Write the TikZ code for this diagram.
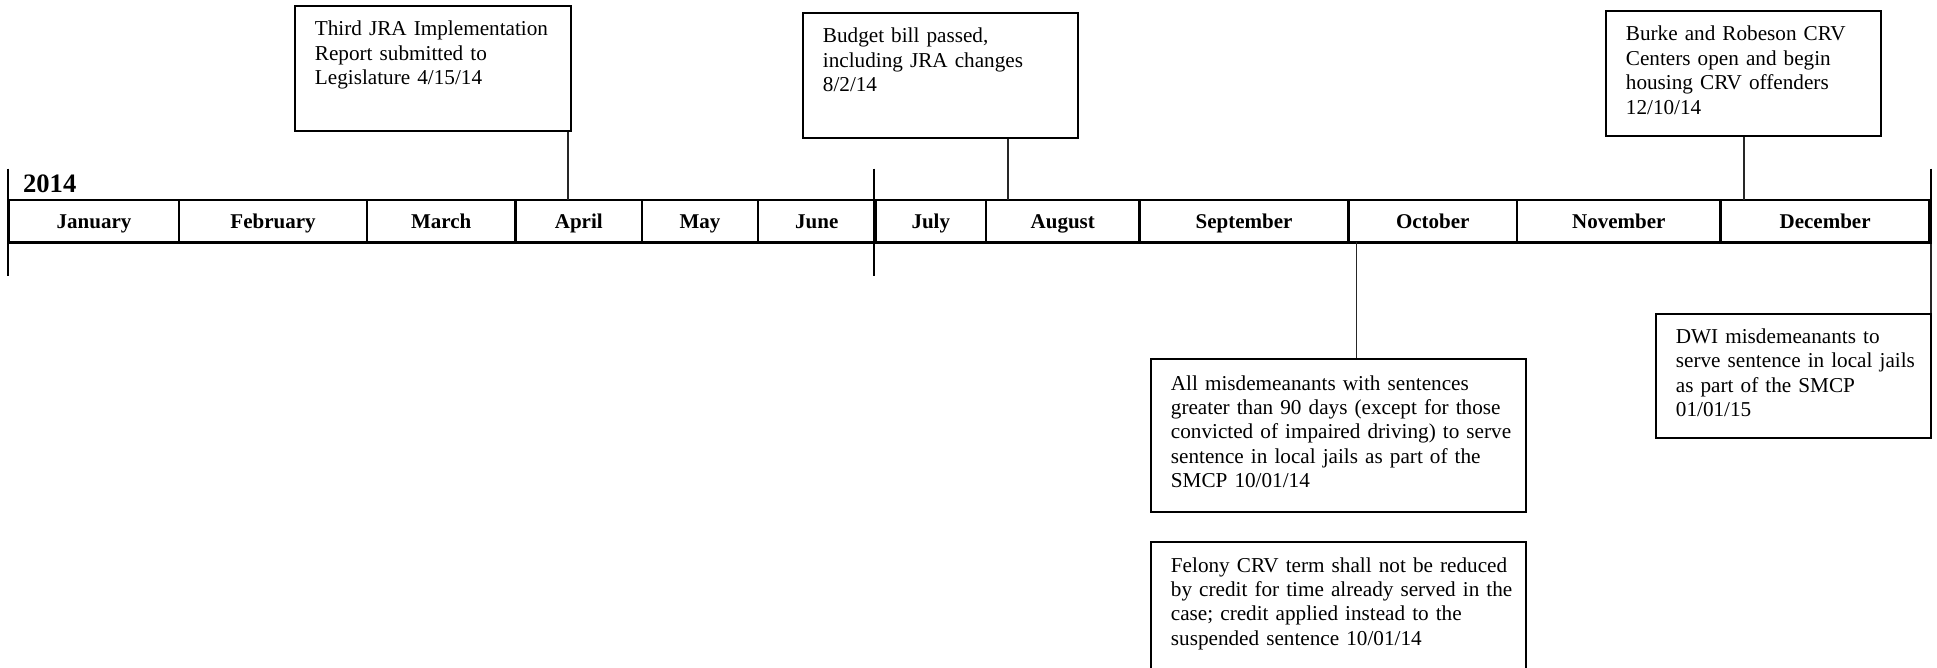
\documentclass[tikz,border=0pt]{standalone}
\usepackage{fontspec}
\setmainfont{Liberation Serif}
\begin{document}
\begin{tikzpicture}[x=0.5pt,y=-0.5pt,
  month/.style={draw, line width=1.3pt, inner sep=0pt, minimum height=21.25pt,
    text height=8pt, text depth=1.2pt, font=\bfseries\fontsize{10.5}{12}\selectfont},
  evbox/.style={draw, line width=1pt, inner sep=0pt, anchor=north west},
  evtext/.style={inner sep=0pt, anchor=base west, align=left, text width=#1,
    font=\fontsize{10.6}{12.2}\selectfont},
  evtext/.default=128pt,
  yearline/.style={line width=1pt},
  link/.style={line width=0.6pt, black!85}]
\useasboundingbox (0,0) rectangle (1937,668);
\clip (0,0) rectangle (1937,668);

% month table
\foreach \a/\b/\m/\n in {9/179/January/jan, 179/367/February/feb,
  367/515.5/March/mar, 515.5/642/April/apr, 642/758/May/may,
  758/875.5/June/jun, 875.5/986/July/jul, 986/1139.5/August/aug,
  1139.5/1348.5/September/sep, 1348.5/1517/October/oct,
  1517/1720.6/November/nov, 1720.6/1929.6/December/dec}
  \node[month, minimum width={(\b-\a)*0.5pt}] (\n) at ({(\a+\b)/2},221.25) {\m};

% year markers
\draw[yearline] ([yshift=15pt]jan.north west) -- ([yshift=-16.25pt]jan.south west);
\draw[yearline] ([yshift=15pt]jul.north west) -- ([yshift=-16.25pt]jul.south west);
\draw[yearline] ([yshift=15pt]dec.north east) -- ([yshift=-16.25pt]dec.south east);
\node[inner sep=0pt, anchor=base west, font=\bfseries\fontsize{13.3}{15}\selectfont] (yr) at (22.7,193) {2014};

% event boxes
\node[evbox, minimum width=137.75pt, minimum height=62.5pt] (b1) at (294,5) {};
\node[evtext] (t1) at ([xshift=10.25pt, yshift=-15.5pt]b1.north west)
  {Third JRA Implementation\\Report submitted to\\Legislature 4/15/14};

\node[evbox, minimum width=137.5pt, minimum height=62.5pt] (b2) at (802,12) {};
\node[evtext] (t2) at ([xshift=10.25pt, yshift=-15.5pt]b2.north west)
  {Budget bill passed,\\including JRA changes\\8/2/14};

\node[evbox, minimum width=137.5pt, minimum height=62.5pt] (b3) at (1605,10) {};
\node[evtext] (t3) at ([xshift=10.25pt, yshift=-15.5pt]b3.north west)
  {Burke and Robeson CRV\\Centers open and begin\\housing CRV offenders\\12/10/14};

\node[evbox, minimum width=187.25pt, minimum height=76.5pt] (b4) at (1150,358) {};
\node[evtext=176pt] (t4) at ([xshift=10.25pt, yshift=-16pt]b4.north west)
  {All misdemeanants with sentences\\greater than 90 days (except for those\\convicted of impaired driving) to serve\\sentence in local jails as part of the\\SMCP 10/01/14};

\node[evbox, minimum width=187.25pt, minimum height=80pt] (b5) at (1150,541) {};
\node[evtext=176pt] (t5) at ([xshift=10.25pt, yshift=-15.5pt]b5.north west)
  {Felony CRV term shall not be reduced\\by credit for time already served in the\\case; credit applied instead to the\\suspended sentence 10/01/14};

\node[evbox, minimum width=137.5pt, minimum height=62.25pt] (b6) at (1655,312.7) {};
\node[evtext] (t6) at ([xshift=10.25pt, yshift=-15.25pt]b6.north west)
  {DWI misdemeanants to\\serve sentence in local jails\\as part of the SMCP\\01/01/15};

% connectors
\coordinate (p1) at (568,200);
\coordinate (p2) at (1008,200);
\coordinate (p3) at (1744,200);
\coordinate (p4) at (1356.6,242.5);
\draw[link] (b1.south -| p1) -- (p1);
\draw[link] (b2.south -| p2) -- (p2);
\draw[link] (b3.south -| p3) -- (p3);
\draw[link] (p4) -- (b4.north -| p4);
\draw[link] (dec.south east) -- (dec.south east |- b6.north);
\end{tikzpicture}
\end{document}
